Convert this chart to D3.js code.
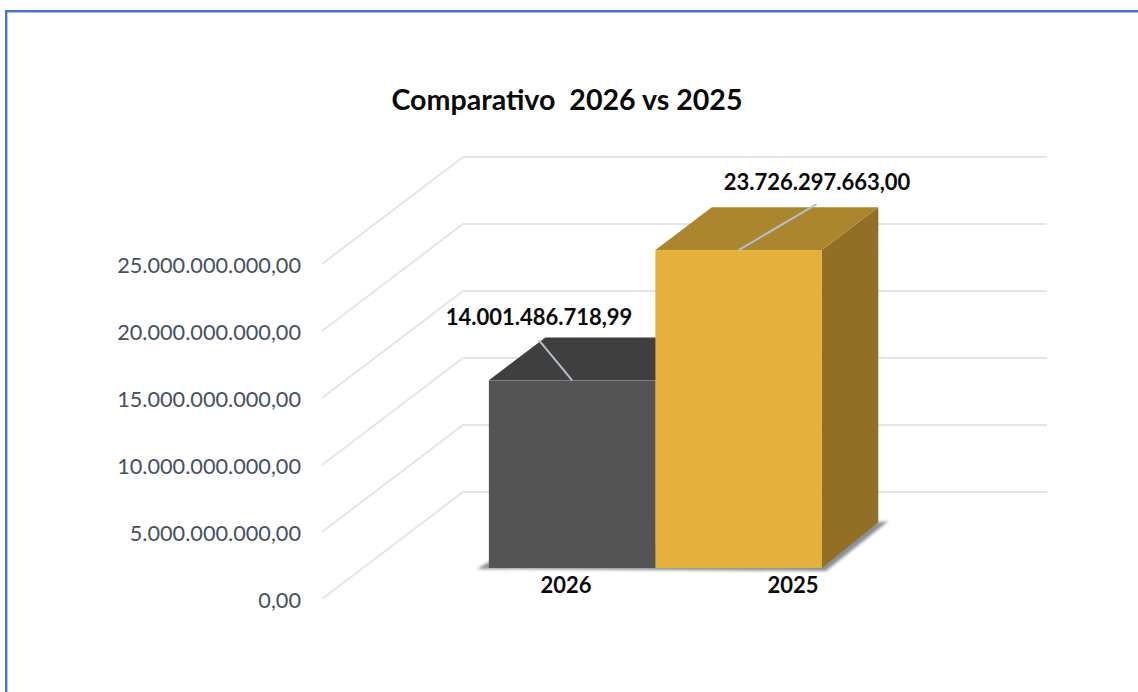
<!DOCTYPE html>
<html>
<head>
<meta charset="utf-8">
<script src="https://cdn.jsdelivr.net/npm/d3@7"></script>
<style>
  html, body { margin: 0; padding: 0; background: #fff; overflow: hidden; }
  svg { display: block; }
</style>
</head>
<body>
<svg id="chart" width="1138" height="692"></svg>
<script>
const chartTitle = "Comparativo  2026 vs 2025";
const years = ["2026", "2025"];
const totals = [14001486718.99, 23726297663.00];
const axisTicks = [0, 5e9, 10e9, 15e9, 20e9, 25e9];
const frontColors = ["#535453", "#e3b13c"];
const topColors = ["#3f3f3f", "#ab862e"];
const sideColors = ["#3a3a3a", "#917026"];

const ptBR = d3.formatLocale({ decimal: ",", thousands: ".", grouping: [3], currency: ["R$", ""] });
const money = ptBR.format(",.2f");

const svg = d3.select("#chart");
const fontStack = "Lato, 'Open Sans', sans-serif";

// Window frame: only the top and left edges fall inside the view
svg.append("path")
  .attr("d", "M6.2,692V11.2H1138")
  .attr("fill", "none")
  .attr("stroke", "#4a76c6")
  .attr("stroke-width", 2.4);

svg.append("text")
  .attr("x", 567).attr("y", 110)
  .attr("text-anchor", "middle")
  .attr("font-family", fontStack)
  .attr("font-weight", 700)
  .attr("font-size", 28.6)
  .attr("fill", "#0a0a0a")
  .style("white-space", "pre")
  .text(chartTitle);

// Value scale on the front plane of the 3-D box
const y = d3.scaleLinear().domain([0, 25e9]).range([599, 264]);

// Oblique projection: full box depth and the slab occupied by the columns
const boxDepth = { dx: 141, dy: -107 };
const slabStart = 0.29;
const slabDepth = 0.40;
const floorLift = 3;
const project = (px, py, t) => [px + boxDepth.dx * t, py + boxDepth.dy * t];

const x = d3.scaleBand().domain(years).range([448, 781]).padding(0);

// Gridlines: wall segment receding from the front plane, then across the back wall
const gridRight = 1047;
const gridLeft = 322;
svg.append("g").selectAll("path")
  .data(axisTicks)
  .join("path")
  .attr("d", d => {
    const a = [gridLeft, y(d)];
    const b = project(gridLeft, y(d), 1);
    return d3.line()([a, b, [gridRight, b[1]]]);
  })
  .attr("fill", "none")
  .attr("stroke", "#e1e5ed")
  .attr("stroke-width", 2);

// Value axis labels
const axis = d3.axisLeft(y).tickValues(axisTicks).tickFormat(money).tickSize(0).tickPadding(0);
const axisG = svg.append("g").attr("transform", "translate(301,2)").call(axis);
axisG.select(".domain").remove();
axisG.selectAll("text")
  .attr("font-family", fontStack)
  .attr("font-size", 21.7)
  .attr("fill", "#46515f");

// Soft contact shadow under the columns
const defs = svg.append("defs");
defs.append("filter").attr("id", "soft")
  .attr("x", "-10%").attr("y", "-10%").attr("width", "120%").attr("height", "120%")
  .append("feGaussianBlur").attr("stdDeviation", 1.6);

const slabX = d => x(d) + project(0, 0, slabStart)[0];
const slabY = v => y(v) + project(0, 0, slabStart)[1];
const off = project(0, 0, slabDepth);
const x0 = slabX(years[0]);
const x1 = slabX(years[1]) + x.bandwidth();
const y0 = slabY(0);
const backFloor = y0 + off[1] - floorLift;

svg.append("path")
  .attr("d", d3.line()([
    [x0 - 12, y0 + 1], [x0 + 4, y0 - 8], [x1 + off[0], backFloor],
    [x1 + off[0] + 10, backFloor - 1], [x1 + 4, y0 + 3]
  ]) + "Z")
  .attr("fill", "#8b8f94")
  .attr("filter", "url(#soft)");

// Columns, painted back to front so the taller one overlaps the shorter top
const rows = years.map((year, i) => ({ year, value: totals[i], i }));
const columns = svg.append("g").selectAll("g").data(rows).join("g");

columns.append("path")
  .attr("d", d => {
    const r = slabX(d.year) + x.bandwidth();
    const t = slabY(d.value);
    return d3.line()([[r, t], [r + off[0], t + off[1]], [r + off[0], backFloor], [r, y0]]) + "Z";
  })
  .attr("fill", d => sideColors[d.i]);

columns.append("path")
  .attr("d", d => {
    const l = slabX(d.year);
    const r = l + x.bandwidth();
    const t = slabY(d.value);
    return d3.line()([[l, t], [l + off[0], t + off[1]], [r + off[0], t + off[1]], [r, t]]) + "Z";
  })
  .attr("fill", d => topColors[d.i]);

columns.append("rect")
  .attr("x", d => slabX(d.year))
  .attr("y", d => slabY(d.value))
  .attr("width", x.bandwidth())
  .attr("height", d => y0 - slabY(d.value))
  .attr("fill", d => frontColors[d.i]);

// Leader lines from each value label to the top edge of its column
const leaderOffsets = [[-33, -40], [78, -46]];
svg.append("g").selectAll("line").data(rows).join("line")
  .attr("x1", d => slabX(d.year) + x.bandwidth() / 2)
  .attr("y1", d => slabY(d.value))
  .attr("x2", d => slabX(d.year) + x.bandwidth() / 2 + leaderOffsets[d.i][0])
  .attr("y2", d => slabY(d.value) + leaderOffsets[d.i][1])
  .attr("stroke", "#b3bfca")
  .attr("stroke-width", 2);

// Value labels
const labelPos = [[539, 325], [817, 190]];
svg.append("g").selectAll("text").data(rows).join("text")
  .attr("x", d => labelPos[d.i][0])
  .attr("y", d => labelPos[d.i][1])
  .attr("text-anchor", "middle")
  .attr("font-family", fontStack)
  .attr("font-weight", 700)
  .attr("font-size", 22)
  .attr("fill", "#0a0a0a")
  .text(d => money(d.value));

// Category labels
const categoryX = [566, 793];
svg.append("g").selectAll("text").data(rows).join("text")
  .attr("x", d => categoryX[d.i])
  .attr("y", 593)
  .attr("text-anchor", "middle")
  .attr("font-family", fontStack)
  .attr("font-weight", 700)
  .attr("font-size", 22)
  .attr("fill", "#0a0a0a")
  .text(d => d.year);
</script>
</body>
</html>
